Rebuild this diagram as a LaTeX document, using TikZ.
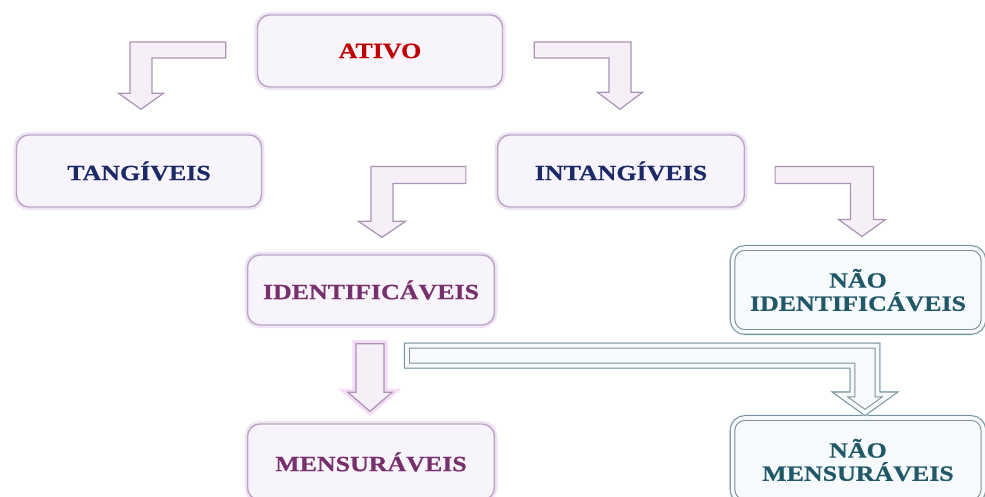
\documentclass[tikz,border=0pt]{standalone}
\usepackage{fontspec}
\setmainfont{Liberation Serif}[FakeStretch=1.19, BoldFeatures={FakeBold=0.6}]
\usetikzlibrary{calc,shadows}

\definecolor{redtxt}{HTML}{C00000}
\definecolor{navytxt}{HTML}{1B2A66}
\definecolor{purptxt}{HTML}{76306E}
\definecolor{tealtxt}{HTML}{215868}
\definecolor{lavfill}{HTML}{F8F4FB}
\definecolor{lavline}{HTML}{BBA6C6}
\definecolor{lavglow}{HTML}{EFE4F4}
\definecolor{greyfill}{HTML}{F7FAFC}
\definecolor{greyline}{HTML}{7E9097}
\definecolor{cyanglow}{HTML}{D4F3FB}
\definecolor{arrfill}{HTML}{F6EFF8}
\definecolor{arrline}{HTML}{A995B3}
\definecolor{pinkglow}{HTML}{F6DDF6}

% sizes of a block arrow, given in pixels of the sketch
\tikzset{
  dims/.code args={#1/#2/#3/#4}{\def\barh{#1*0.569pt}\def\shaftw{#2*0.569pt}%
    \def\headw{#3*0.569pt}\def\headl{#4*0.569pt}},
  lavbox/.style={rounded corners=7pt, fill=lavfill, draw=lavline, line width=.8pt,
    minimum width=139.4pt, minimum height=41pt, inner sep=0pt, align=center,
    font=\bfseries\fontsize{12.4}{13.2}\selectfont,
    drop shadow={shadow xshift=-1pt, shadow yshift=-1.2pt, fill=lavline, opacity=.5},
    preaction={draw=lavglow, line width=3.5pt}},
  greybox/.style={lavbox, fill=greyfill, draw=greyline, line width=.6pt,
    double=greyfill, double distance=2pt, minimum width=142.8pt, minimum height=47.8pt,
    drop shadow={shadow xshift=-1pt, shadow yshift=-1pt, fill=greyline, opacity=.3},
    preaction={draw=cyanglow, line width=4pt}, text=tealtxt},
  lavarrow/.style={fill=arrfill, draw=arrline, line width=.7pt, line join=miter},
  greyarrow/.style={fill=greyfill, draw=greyline, line width=.6pt,
    double=greyfill, double distance=2.2pt, preaction={draw=cyanglow, line width=4pt}},
}

% elbow arrow: bar from #2, bending down to the tip #3; #4 = 1 right, -1 left
\newcommand{\elbowarrow}[4][]{%
  \path[#1] let \p1=(#2), \p2=(#3) in
    ({\x1},{\y1+\barh}) -- ({\x2+(#4)*\shaftw},{\y1+\barh}) -- ({\x2+(#4)*\shaftw},{\y2+\headl})
    -- ({\x2+(#4)*\headw},{\y2+\headl}) -- (\x2,\y2) -- ({\x2-(#4)*\headw},{\y2+\headl})
    -- ({\x2-(#4)*\shaftw},{\y2+\headl}) -- ({\x2-(#4)*\shaftw},{\y1-\barh}) -- ({\x1},{\y1-\barh}) -- cycle;}
% straight arrow from #2 down to the tip #3
\newcommand{\droparrow}[3][]{%
  \path[#1] let \p1=(#2), \p2=(#3) in
    ({\x1-\shaftw},\y1) -- ({\x1+\shaftw},\y1) -- ({\x1+\shaftw},{\y2+\headl}) -- ({\x1+\headw},{\y2+\headl})
    -- (\x2,\y2) -- ({\x1-\headw},{\y2+\headl}) -- ({\x1-\shaftw},{\y2+\headl}) -- cycle;}

\begin{document}
\begin{tikzpicture}[x=0.02cm, y=0.02cm]
\useasboundingbox (0,0) rectangle (985,497);
\clip (0,0) rectangle (985,497);

\node[lavbox, text=redtxt] (ativo) at (380,446) {ATIVO};
\node[lavbox, text=navytxt] (tang) at (139,326) {TANGÍVEIS};
\node[lavbox, text=navytxt, minimum width=140.5pt] (intang) at (621,326) {INTANGÍVEIS};
\node[lavbox, text=purptxt, minimum width=140.5pt, minimum height=39.8pt] (ident) at (371,207) {IDENTIFICÁVEIS};
\node[greybox] (naoid) at (858,207) {NÃO\\IDENTIFICÁVEIS};
\node[lavbox, text=purptxt, minimum width=140.5pt, minimum height=43.2pt] (mens) at (371,35) {MENSURÁVEIS};
\node[greybox] (naomens) at (858,37) {NÃO\\MENSURÁVEIS};

% arrows between the levels
\elbowarrow[lavarrow, dims=8/11/22.5/16]{$(ativo.west)+(-31,1)$}{$(tang.north)+(2,25)$}{-1}
\elbowarrow[lavarrow, dims=8/11/22.5/17]{$(ativo.east)+(31,1)$}{$(intang.north)+(-1,25)$}{1}
\elbowarrow[lavarrow, dims=8.5/11/23.5/16]{$(intang.west)+(-31,-4)$}{$(ident.north)+(11,17)$}{-1}
\elbowarrow[lavarrow, dims=8.5/11.5/23.5/17]{$(intang.east)+(30,-4)$}{$(naoid.north)+(4,11)$}{1}
\droparrow[lavarrow, preaction={draw=pinkglow, line width=4pt}, dims=0/14/22/19]{$(ident.south)+(-1,-18)$}{$(mens.north)+(-1,12)$}
\elbowarrow[greyarrow, dims=10/12.5/25/18]{$(ident.south)+(36,-30)$}{$(naomens.north)+(7,5)$}{1}
\end{tikzpicture}
\end{document}
